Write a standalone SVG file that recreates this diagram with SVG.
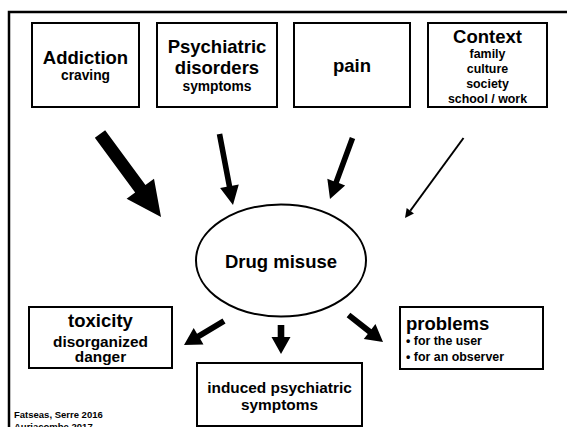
<svg xmlns="http://www.w3.org/2000/svg" width="567" height="427" viewBox="0 0 567 427">
<style>
  text { font-family: "Liberation Sans", Arial, sans-serif; font-weight: bold; fill: #000; }
  .box { fill: #fff; stroke: #000; stroke-width: 2; }
  .t { font-size: 18.5px; text-anchor: middle; }
  .s { font-size: 13.8px; text-anchor: middle; }
  .xs { font-size: 12.4px; text-anchor: middle; }
  .m { font-size: 15.4px; text-anchor: middle; }
  .arr { fill: #000; stroke: none; }
  .foot { font-size: 9.5px; }
</style>
<rect x="0" y="0" width="567" height="427" fill="#fff"/>
<path d="M9,427 V12 H567" fill="none" stroke="#000" stroke-width="2.5"/>

<g id="addiction">
  <rect class="box" x="32" y="23" width="107" height="84"/>
  <text class="t" x="85.5" y="64">Addiction</text>
  <text class="s" x="85.5" y="80">craving</text>
</g>
<g id="psychiatric">
  <rect class="box" x="157" y="23" width="120" height="84"/>
  <text class="t" x="217" y="53">Psychiatric</text>
  <text class="t" x="217" y="74">disorders</text>
  <text class="s" x="217" y="90.5">symptoms</text>
</g>
<g id="pain">
  <rect class="box" x="294" y="23" width="116" height="84"/>
  <text class="t" x="352" y="72">pain</text>
</g>
<g id="context">
  <rect class="box" x="428" y="23" width="119" height="84"/>
  <text class="t" x="487.5" y="43">Context</text>
  <text class="xs" x="487.5" y="58">family</text>
  <text class="xs" x="487.5" y="73">culture</text>
  <text class="xs" x="487.5" y="88">society</text>
  <text class="xs" x="487.5" y="103">school / work</text>
</g>
<g id="drug-misuse">
  <ellipse cx="281" cy="260.5" rx="85" ry="56" fill="#fff" stroke="#000" stroke-width="2"/>
  <text class="t" x="281" y="268">Drug misuse</text>
</g>
<g id="toxicity">
  <rect class="box" x="29" y="307" width="143" height="61"/>
  <text class="t" x="100.5" y="327">toxicity</text>
  <text class="m" x="100.5" y="347">disorganized</text>
  <text class="m" x="100.5" y="362">danger</text>
</g>
<g id="induced">
  <rect class="box" x="197" y="363" width="165" height="63"/>
  <text class="m" x="279.5" y="393">induced psychiatric</text>
  <text class="m" x="279.5" y="410">symptoms</text>
</g>
<g id="problems">
  <rect class="box" x="400" y="307" width="143" height="62"/>
  <text x="406" y="330" style="font-size:18.5px">problems</text>
  <text x="406" y="345" style="font-size:12.4px">• for the user</text>
  <text x="406" y="361" style="font-size:12.4px">• for an observer</text>
</g>

<g id="connectors">
  <polygon class="arr" points="94.84,137.79 135.14,192.59 126.6,198.86 161,217 154.0,178.74 145.46,185.01 105.16,130.21"/>
  <polygon class="arr" points="216.75,134.52 226.70,186.86 220.12,188.12 233,205 238.78,184.56 232.20,185.82 222.25,133.48"/>
  <polygon class="arr" points="349.87,137.03 333.60,181.15 327.32,178.83 330,199 345.14,185.41 338.86,183.09 355.13,138.97"/>
  <line x1="463.5" y1="138" x2="410.31" y2="210.74" stroke="#000" stroke-width="2"/>
  <polygon class="arr" points="406.68,208.08 405,218 413.94,213.40"/>
  <polygon class="arr" points="222.45,318.43 197.04,333.67 193.70,328.09 184,345 203.48,344.39 200.14,338.81 225.55,323.57"/>
  <polygon class="arr" points="277.7,325 277.7,337 271.5,337 281,354 290.5,337 284.3,337 284.3,325"/>
  <polygon class="arr" points="346.65,317.36 367.75,333.89 363.75,339.02 383,342 375.45,324.04 371.45,329.17 350.35,312.64"/>
</g>

<text class="foot" x="14" y="418">Fatseas, Serre 2016</text>
<text class="foot" x="14" y="430">Auriacombe 2017</text>
</svg>
